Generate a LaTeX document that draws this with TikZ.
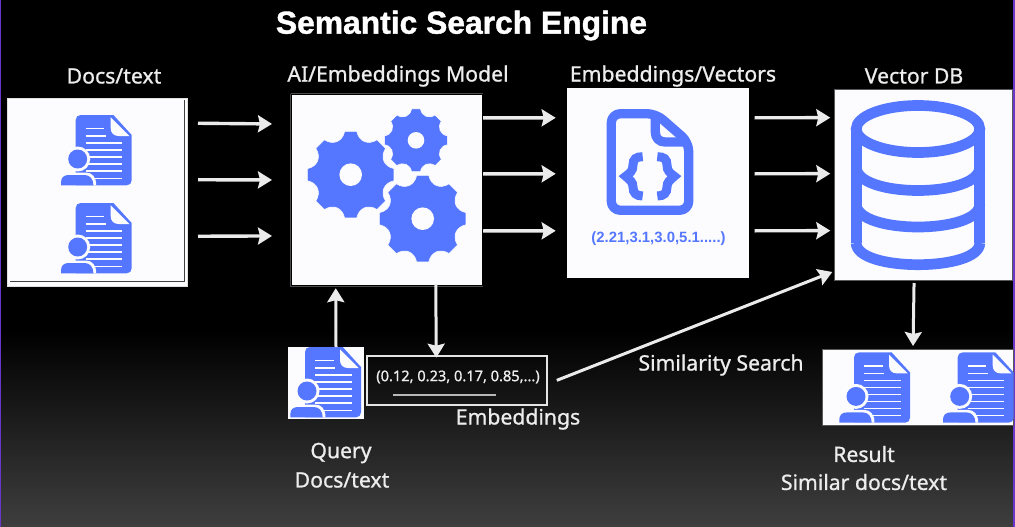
\documentclass[tikz,border=0pt]{standalone}
\usepackage{fontspec}
\setmainfont{Noto Sans}
\newfontfamily\titlefont[RawFeature={embolden=1.2}]{Liberation Sans Bold}
\newfontfamily\lblfont[RawFeature={embolden=0.9}]{Noto Sans}
\newfontfamily\valfont{Liberation Sans Bold}
\usetikzlibrary{arrows.meta,calc}
\definecolor{iconblue}{HTML}{5577FF}
\definecolor{paper}{HTML}{FCFCFE}
\definecolor{edgepurple}{HTML}{6A35C8}
\definecolor{bottomgrey}{HTML}{3E3E3E}
\tikzset{
  flow/.style={draw=white!92!black,line width=3.4pt,-{Stealth[length=14pt,width=17pt,inset=2pt]}},
  thinflow/.style={flow,line width=3pt},
  whitebox/.style={fill=paper,draw=#1,line width=1pt,anchor=north west,inner sep=0pt,outer sep=0pt},
  whitebox/.default=white,
  lbl/.style={text=white!93!black,font=\lblfont\fontsize{21.2}{24}\selectfont,inner sep=0pt,anchor=center},
  hairwhite/.style={draw=paper,line width=1.3pt}
}
\newcommand{\docicon}[2]{%
  \begin{scope}[shift={(#1,#2)}]
    \fill[iconblue] (0,5) .. controls (0,2) and (2,0) .. (5,0) -- (37.7,0) -- (56,20) -- (56,65.3) .. controls (56,68.3) and (54,70.3) .. (51,70.3) -- (0,70.3) -- cycle;
    \fill[paper] (35,2.3) -- (53.7,21) -- (43,21) .. controls (38,21) and (35,18) .. (35,13) -- cycle;
    \foreach \yy/\xx in {13.7/28.7,21/30.3,28/46.7,35/46.7,42/46.7,49/46.7,56/46.7,63.3/46.7}
      \draw[hairwhite] (10,\yy) -- (\xx,\yy);
    \fill[paper] (2,44) circle[radius=12.5];
    \fill[iconblue] (2,44) circle[radius=9.5];
    \fill[paper] (-14.7,70.3) -- (-14.7,57.5) -- (10,57.5) .. controls (16.5,57.5) and (20.5,62) .. (20.5,70.3) -- cycle;
    \fill[iconblue] (-14.7,70.3) -- (-14.7,67) .. controls (-14.7,62) and (-11,60) .. (-7,60) -- (9,60) .. controls (14,60) and (17.7,64) .. (17.7,70.3) -- cycle;
  \end{scope}}
\newcommand{\gear}[4]{%
  \begin{scope}[shift={(#1,#2)}]
    \fill[iconblue,draw=paper,line width=0.6pt] (-8:#3) \foreach \a in {0,45,...,315} {
        -- ({\a-8}:#3) -- ({\a+8}:#3) .. controls ({\a+14}:{0.78*#3}) and ({\a+31}:{0.78*#3}) .. ({\a+37}:#3)
      } -- cycle;
    \fill[paper] (0,0) circle[radius=#4];
  \end{scope}}
\newcommand{\dbarc}[2]{% start height, depth
  \draw (856.2,#1) .. controls (856.2,{#1+1.333*#2}) and (979.8,{#1+1.333*#2}) .. (979.8,#1);}
\begin{document}
\begin{tikzpicture}[x=1pt,y=-1pt]
\useasboundingbox (0,0) rectangle (1015,527);
\fill[black] (0,0) rectangle (1015,527);
\shade[top color=black,bottom color=bottomgrey] (0,330) rectangle (1015,527);
\fill[edgepurple] (0,0) rectangle (1.2,527);
\fill[edgepurple] (1013.4,0) rectangle (1015,527);

% boxes
\node[whitebox=white!88!black,minimum width=180pt,minimum height=188.5pt] (docs) at (7.5,98) {};
\draw[black!75,line width=0.8pt] (184.3,100) -- (184.3,281.5) -- (10,281.5);
\node[whitebox=paper,minimum width=188.5pt,minimum height=188.5pt] (model) at (292.5,95.7) {};
\draw[black!70!white,line width=0.9pt] (290.5,93.5) -- (483,93.5) (483,286.2) -- (290.5,286.2) -- (290.5,93.5);
\node[whitebox=paper,minimum width=181pt,minimum height=189pt] (vectors) at (567.7,88.3) {};
\node[whitebox=black!65!white,minimum width=178.5pt,minimum height=190.7pt] (vdb) at (834.3,89.3) {};
\node[whitebox=paper,minimum width=75pt,minimum height=71pt] (query) at (288,347) {};
\node[whitebox=black!65!white,minimum width=190.7pt,minimum height=76.7pt] (result) at (822.7,349) {};
\node[draw=white!90!black,line width=2.2pt,minimum width=180pt,minimum height=49.3pt,anchor=north west,inner sep=0pt,outer sep=0pt] (emb) at (367.3,355.7) {};

% icons
\docicon{75.7}{115}
\docicon{75.7}{203}
\docicon{305}{347}
\docicon{854}{352.4}
\docicon{957.7}{352.4}

\gear{350.7}{174.7}{43.7}{11.3}
\gear{416}{140.3}{31.7}{8.3}
\gear{422.7}{218.7}{43.7}{11.3}

% file with braces
\begin{scope}[draw=iconblue,line width=9.3pt,line join=round]
  \draw[rounded corners=9pt] (645,113.7) -- (611.3,113.7) -- (611.3,210.3) -- (688.7,210.3) -- (688.7,142.3) -- (656,113.7) -- (645,113.7);
  \draw (655.3,116) -- (655.3,132) .. controls (655.3,138) and (659,142) .. (665,142) -- (688.7,142);
  \draw[line width=9pt,line join=miter] (642.7,156.7) .. controls (636,156.7) and (633,159) .. (633,165) .. controls (633,171) and (630,173) .. (625.7,176.3) .. controls (630,180) and (633,182) .. (633,187) .. controls (633,193) and (636,196) .. (642.7,196);
  \draw[line width=9pt,line join=miter] (657.3,156.7) .. controls (664,156.7) and (667,159) .. (667,165) .. controls (667,171) and (670,173) .. (674.3,176.3) .. controls (670,180) and (667,182) .. (667,187) .. controls (667,193) and (664,196) .. (657.3,196);
\end{scope}

% database
\begin{scope}[draw=iconblue,line width=10.7pt]
  \draw (918,129) ellipse[x radius=61.8,y radius=23.5];
  \draw[line cap=butt] (856.2,129) -- (856.2,243);
  \draw[line cap=butt] (979.8,129) -- (979.8,243);
  \dbarc{243}{21.7}
  \dbarc{167}{23.5}
  \dbarc{204}{23}
\end{scope}

% connectors
\draw[flow] ([shift={(10.5,-69)}]docs.east) -- ([shift={(-20.5,-66)}]model.west);
\draw[flow] ([shift={(10.5,-12.5)}]docs.east) -- ([shift={(-20.5,-10)}]model.west);
\draw[flow] ([shift={(10.5,44)}]docs.east) -- ([shift={(-20.5,46)}]model.west);
\draw[flow] ([shift={(2,-72)}]model.east) -- ([shift={(-12,-65)}]vectors.west);
\draw[flow] ([shift={(2,-16)}]model.east) -- ([shift={(-12,-9)}]vectors.west);
\draw[flow] ([shift={(2,41)}]model.east) -- ([shift={(-12,48)}]vectors.west);
\draw[flow] ([shift={(6,-65)}]vectors.east) -- ([shift={(-4,-67)}]vdb.west);
\draw[flow] ([shift={(6,-9)}]vectors.east) -- ([shift={(-4,-11)}]vdb.west);
\draw[flow] ([shift={(6,48)}]vectors.east) -- ([shift={(-4,46)}]vdb.west);
\draw[thinflow] ([xshift=10.5pt]query.north) -- ([shift={(-51,4)}]model.south);
\draw[thinflow] ([xshift=49pt]model.south) -- ([xshift=-21pt,yshift=-2pt]emb.north);
\draw[thinflow] ([shift={(9.5,0)}]emb.east) -- ([shift={(-2,-8)}]vdb.south west);
\draw[thinflow] ([shift={(-9.5,3)}]vdb.south) -- ([shift={(-5,-3)}]result.north);

% texts
\node[font=\titlefont\fontsize{31.8}{36}\selectfont,text=white,inner sep=0pt] (title) at (461.5,25.5) {Semantic Search Engine};
\node[lbl] (tdocs) at (114,76) {Docs/text};
\node[lbl] (tmodel) at (398,76) {AI/Embeddings Model};
\node[lbl] (tvec) at (673,76) {Embeddings/Vectors};
\node[lbl] (tdb) at (914,76) {Vector DB};
\node[lbl] (tsim) at (721,365) {Similarity Search};
\node[lbl] (temb) at (518,419) {Embeddings};
\node[lbl] (tq1) at (341,453) {Query};
\node[lbl] (tq2) at (342,480) {Docs/text};
\node[lbl] (tr1) at (864,454) {Result};
\node[lbl] (tr2) at (864,482) {Similar docs/text};
\node[text=white!93!black,font=\lblfont\fontsize{14.6}{17}\selectfont,inner sep=0pt] (vals) at (458,377) {(0.12, 0.23, 0.17, 0.85,...)};
\draw[white!72!black,line width=2.4pt] ([shift={(26,14.5)}]emb.west) -- ([shift={(129,14.5)}]emb.west);
\node[text=iconblue,font=\valfont\fontsize{14.9}{17}\selectfont,inner sep=0pt] (vecvals) at (658.5,239) {(2.21,3.1,3.0,5.1.....)};
\end{tikzpicture}
\end{document}
